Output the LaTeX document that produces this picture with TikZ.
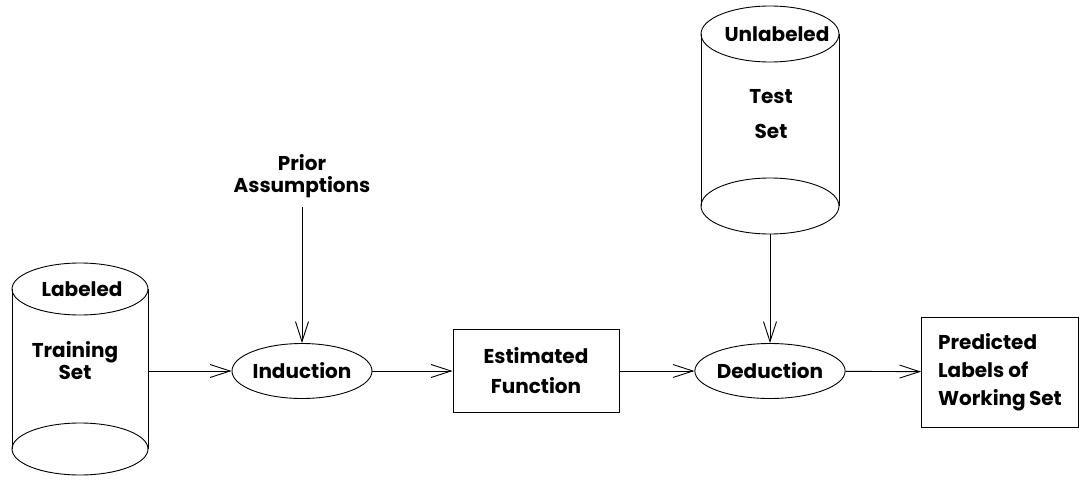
\documentclass[tikz,border=0pt]{standalone}
\usepackage{fontspec}
\setmainfont{Poppins}
\usepackage{tikz}
\usetikzlibrary{positioning,arrows.meta,shapes.geometric}

\begin{document}
\begin{tikzpicture}[x=1pt, y=-1pt, line width=0.9pt,
  font=\fontsize{20}{22}\selectfont\bfseries,
  proc/.style={draw, ellipse, minimum width=140pt, minimum height=55pt, inner sep=0pt},
  box/.style={draw, rectangle, inner sep=0pt},
  body/.style={inner sep=0pt, minimum width=137pt},
  arr/.style={-{Straight Barb[length=20pt, width=13pt]}}]
\useasboundingbox (0,0) rectangle (1081,482);
% training set store
\node[body, minimum height=212pt] (train) at (80,369) {};
\draw (80,289) ellipse [x radius=68pt, y radius=26pt];
\draw (80,449) ellipse [x radius=68pt, y radius=26pt];
\draw (12,289) -- (12,449) (148,289) -- (148,449);
\node (lab) at (82,289) {Labeled};
\node[align=center] (trset) at (75,361) {Training\\Set};
% test set store
\node[body, minimum height=228pt] (test) at (770,120) {};
\draw (770,34) ellipse [x radius=69pt, y radius=28pt];
\draw (770,206) ellipse [x radius=69pt, y radius=28pt];
\draw (701,34) -- (701,206) (839,34) -- (839,206);
\node (unlab) at (777,34) {Unlabeled};
\node[align=center, font=\fontsize{20}{35}\selectfont\bfseries] (teset) at (771,114) {Test\\Set};
% steps
\node[align=center] (prior) at (302,176) {Prior\\Assumptions};
\node[proc] (ind) at (302,371) {Induction};
\node[box, minimum width=166pt, minimum height=83pt, align=center,
  font=\fontsize{20}{30}\selectfont\bfseries] (est) at (536,371) {Estimated\\Function};
\node[proc] (ded) at (770,371) {Deduction};
\node[box, minimum width=157pt, minimum height=110pt, align=left,
  font=\fontsize{20}{28}\selectfont\bfseries] (pred) at (1000,372) {Predicted\\Labels of\\Working\,Set};
% connectors
\draw[arr] (train.east |- ind) -- (ind);
\draw[arr] ([yshift=-6pt]prior.south) -- (ind);
\draw[arr] (ind) -- (est);
\draw[arr] (est) -- (ded);
\draw[arr] (test) -- (ded);
\draw[arr] (ded) -- (pred);
\end{tikzpicture}
\end{document}
